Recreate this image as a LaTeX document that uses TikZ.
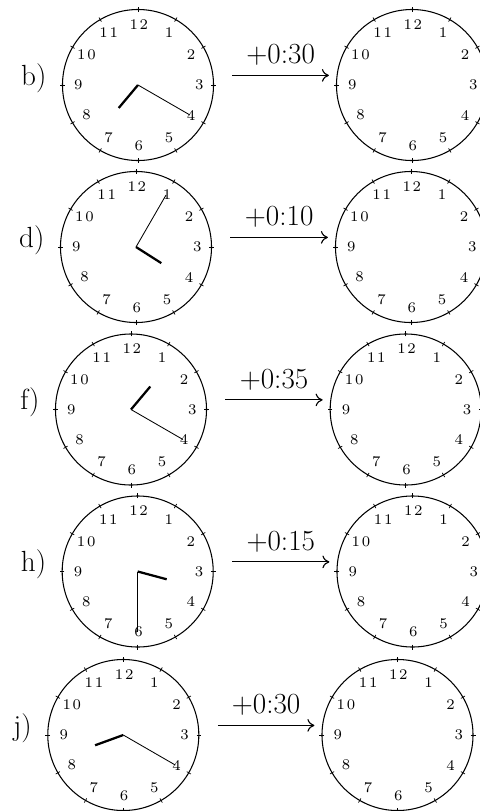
\documentclass[tikz,border=0pt]{standalone}
\usepackage{fontspec}
\newfontfamily\numfont{lmroman7-regular.otf}[LetterSpace=12]
\usepackage{tikz}
\usetikzlibrary{arrows.meta,calc}

\tikzset{
  clock/.pic={
    \node[face] (-face) at (0,0) {};
    \coordinate (-c) at (0,0);
    \foreach \h in {1,...,12}{
      \draw[hrtick] ({90-30*\h}:1.83cm) -- ({90-30*\h}:1.95cm);
      \node[num] (-n\h) at ({90-30*\h}:1.51cm) {\h};
    }
  }
}

\begin{document}
\begin{tikzpicture}[
    x=0.025cm, y=-0.025cm,
    face/.style={circle, draw, line width=0.75pt, minimum size=3.775cm, inner sep=0pt},
    hrtick/.style={line width=0.5pt},
    num/.style={font=\numfont\fontsize{10.5}{12}\selectfont, inner sep=0pt, xshift=0.6pt},
    lbl/.style={font=\huge, inner sep=0pt, anchor=base east},
    hourhand/.style={line width=1.6pt},
    minhand/.style={line width=0.6pt},
    arrow/.style={-{Computer Modern Rightarrow[length=5pt,width=9pt]}, line width=0.8pt},
    sumlbl/.style={font=\huge, inner sep=0pt, anchor=base, yshift=0.29cm}
]
\useasboundingbox (0,0) rectangle (480,811);
\clip (0,0) rectangle (480,811);

% b) 7:20
\pic (bL) at (138,85) {clock};
\pic (bR) at (412,85) {clock};
\node[lbl] (bLbl) at ([xshift=-0.38cm]bL-face.west) {b)};
\draw[minhand] (bL-c) -- ++(-30:1.5cm);
\draw[hourhand] (bL-c) -- ++(-130:0.75cm);
\draw[arrow] ([shift={(0.46cm,0.24cm)}]bL-face.east) -- node[sumlbl] (bSum) {+0:30} ([shift={(-0.175cm,0.24cm)}]bR-face.west);

% d) 4:05
\pic (dL) at (136,247) {clock};
\pic (dR) at (411,247) {clock};
\node[lbl] (dLbl) at ([xshift=-0.38cm]dL-face.west) {d)};
\draw[minhand] (dL-c) -- ++(60:1.5cm);
\draw[hourhand] (dL-c) -- ++(-32.5:0.75cm);
\draw[arrow] ([shift={(0.46cm,0.24cm)}]dL-face.east) -- node[sumlbl] (dSum) {+0:10} ([shift={(-0.175cm,0.24cm)}]dR-face.west);

% f) 1:20
\pic (fL) at (131,409.5) {clock};
\pic (fR) at (405.7,409.5) {clock};
\node[lbl] (fLbl) at ([xshift=-0.38cm]fL-face.west) {f)};
\draw[minhand] (fL-c) -- ++(-30:1.5cm);
\draw[hourhand] (fL-c) -- ++(50:0.75cm);
\draw[arrow] ([shift={(0.46cm,0.24cm)}]fL-face.east) -- node[sumlbl] (fSum) {+0:35} ([shift={(-0.175cm,0.24cm)}]fR-face.west);

% h) 3:30
\pic (hL) at (137.7,571.5) {clock};
\pic (hR) at (412.5,571.5) {clock};
\node[lbl] (hLbl) at ([xshift=-0.38cm]hL-face.west) {h)};
\draw[minhand] (hL-c) -- ++(-90:1.5cm);
\draw[hourhand] (hL-c) -- ++(-15:0.75cm);
\draw[arrow] ([shift={(0.46cm,0.24cm)}]hL-face.east) -- node[sumlbl] (hSum) {+0:15} ([shift={(-0.175cm,0.24cm)}]hR-face.west);

% j) 8:20
\pic (jL) at (123.3,735) {clock};
\pic (jR) at (397.5,735) {clock};
\node[lbl] (jLbl) at ([xshift=-0.38cm]jL-face.west) {j)};
\draw[minhand] (jL-c) -- ++(-30:1.5cm);
\draw[hourhand] (jL-c) -- ++(-160:0.75cm);
\draw[arrow] ([shift={(0.46cm,0.24cm)}]jL-face.east) -- node[sumlbl] (jSum) {+0:30} ([shift={(-0.175cm,0.24cm)}]jR-face.west);
\end{tikzpicture}
\end{document}
